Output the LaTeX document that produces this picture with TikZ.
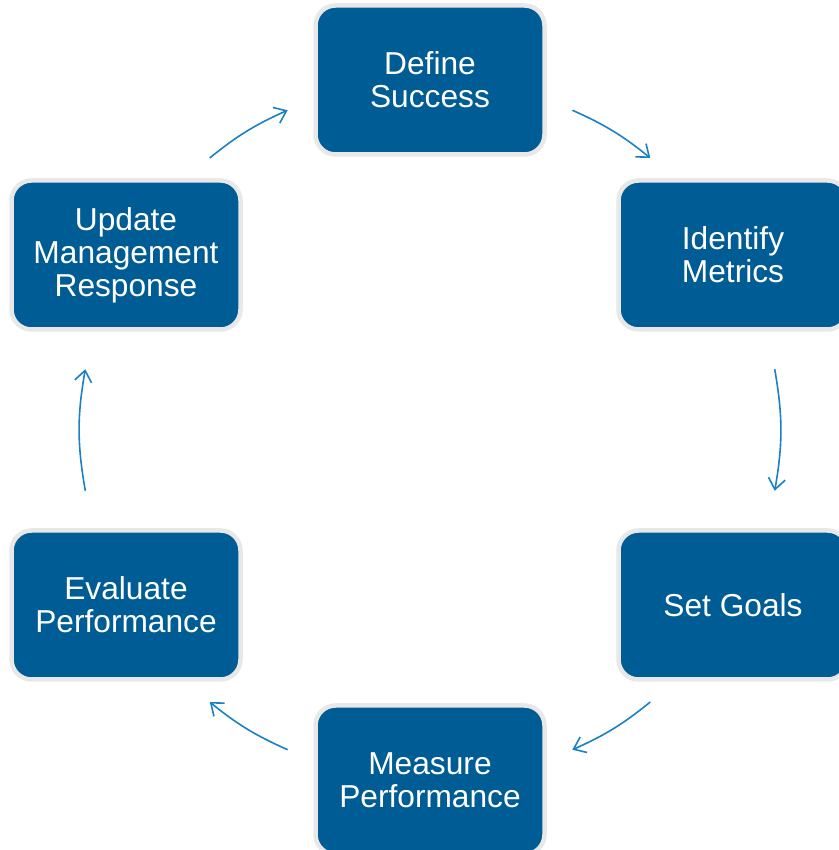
\documentclass[tikz,border=0pt]{standalone}
\usepackage{fontspec}
\setmainfont{Liberation Sans}
\usetikzlibrary{arrows.meta,calc}
\definecolor{boxblue}{RGB}{0,92,148}
\definecolor{boxgray}{RGB}{232,232,232}
\definecolor{arrblue}{RGB}{28,128,196}
\begin{document}
\begin{tikzpicture}[x=1pt,y=1pt,
  stagebox/.style={rounded corners=20pt, fill=boxblue, draw=boxgray, line width=4.5pt,
    minimum width=229pt, minimum height=149pt, inner sep=0pt, text=white, align=center,
    font=\fontsize{31.7}{33}\selectfont},
  flow/.style={draw=arrblue, line width=1.6pt, -{Straight Barb[length=11pt,width=17pt,line width=1.6pt]}}]
\useasboundingbox (0,0) rectangle (838,850);
\coordinate (c) at (430,420);
\node[stagebox] (define) at (430,770) {Define\\Success};
\node[stagebox] (identify) at (733,595) {Identify\\Metrics};
\node[stagebox] (goals) at (733,245) {Set Goals};
\node[stagebox] (measure) at (430,70) {Measure\\Performance};
\node[stagebox] (evaluate) at (126,245) {Evaluate\\Performance};
\node[stagebox] (update) at (126,595) {Update\\Management\\Response};
% arc end points on a circle of radius 350 around (c)
\coordinate (a1s) at ($(c)+(66:350)$);
\coordinate (a1e) at ($(c)+(51:350)$);
\coordinate (a2s) at ($(c)+(10:350)$);
\coordinate (a2e) at ($(c)+(-10:350)$);
\coordinate (a3s) at ($(c)+(-51:350)$);
\coordinate (a3e) at ($(c)+(-66:350)$);
\coordinate (a4s) at ($(c)+(-114:350)$);
\coordinate (a4e) at ($(c)+(-129:350)$);
\coordinate (a5s) at ($(c)+(190:350)$);
\coordinate (a5e) at ($(c)+(170:350)$);
\coordinate (a6s) at ($(c)+(129:350)$);
\coordinate (a6e) at ($(c)+(114:350)$);
\draw[flow] (a1s) to[bend left=7.5] (a1e);
\draw[flow] (a2s) to[bend left=10] (a2e);
\draw[flow] (a3s) to[bend left=7.5] (a3e);
\draw[flow] (a4s) to[bend left=7.5] (a4e);
\draw[flow] (a5s) to[bend left=10] (a5e);
\draw[flow] (a6s) to[bend left=7.5] (a6e);
\end{tikzpicture}
\end{document}
